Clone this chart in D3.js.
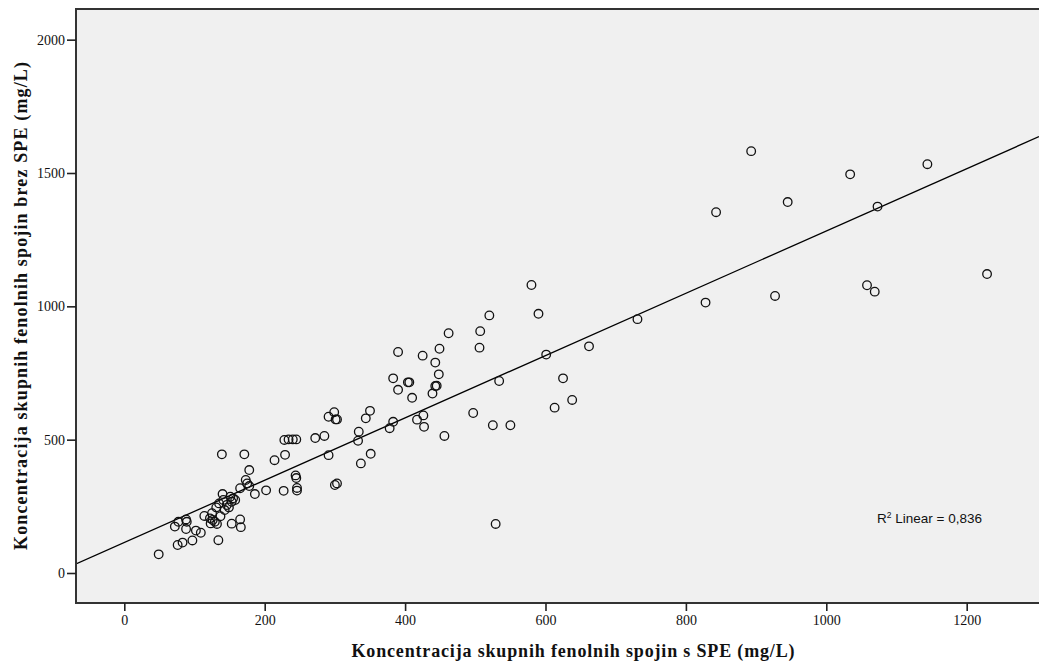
<!DOCTYPE html>
<html>
<head>
<meta charset="utf-8">
<script src="https://cdn.jsdelivr.net/npm/d3@7/dist/d3.min.js"></script>
<style>
  html, body { margin: 0; padding: 0; background: #ffffff; }
  svg { display: block; }
  .tick text { font-family: "Liberation Serif", "Times New Roman", serif; font-size: 14px; fill: #111; }
</style>
</head>
<body>
<svg id="chart" width="1039" height="664"></svg>
<script>
// Total phenolics with SPE (x) vs without SPE (y), mg/L
const withSPE = [
  49, 72, 77, 76, 83, 88, 89, 88, 97, 102, 109, 114, 134, 139, 153, 165, 166, 165, 171, 173,
  175, 178, 178, 186, 202, 214, 227, 229, 228, 234, 240, 245, 244, 245, 246, 246, 272, 285, 291, 291,
  299, 301, 303, 300, 303, 334, 333, 337, 344, 350, 351, 378, 383, 383, 390, 390, 404, 406, 410, 417,
  426, 427, 425, 443, 449, 448, 439, 443, 445, 456, 462, 497, 506, 507, 520, 525, 529, 534, 550, 580,
  590, 601, 613, 625, 638, 662, 731, 828, 843, 893, 927, 945, 1034, 1058, 1069, 1073, 1144, 1229,
  122, 123, 126, 129, 132, 131, 135, 140, 141, 143, 146, 149, 151, 153, 155, 158, 125, 137
];
const withoutSPE = [
  70, 174, 192, 105, 114, 201, 192, 165, 122, 159, 151, 214, 123, 445, 185, 201, 172, 318, 445, 349,
  336, 386, 326, 296, 310, 423, 308, 443, 499, 501, 501, 501, 366, 356, 319, 309, 506, 514, 442, 586,
  603, 576, 576, 330, 336, 530, 496, 411, 580, 608, 447, 543, 567, 730, 829, 687, 715, 715, 657, 575,
  591, 548, 815, 789, 841, 745, 673, 701, 702, 514, 899, 600, 845, 907, 966, 554, 184, 720, 554, 1080,
  972, 819, 620, 730, 649, 850, 952, 1014, 1353, 1582, 1039, 1391, 1495, 1079, 1055, 1374, 1533, 1121,
  205, 186, 199, 192, 184, 246, 261, 296, 274, 236, 255, 246, 286, 267, 280, 274, 224, 213
];

// Linear fit reported on the chart
const fitIntercept = 114.5;
const fitSlope = 1.168;
const rSquared = "0,836";

const xTicks = [0, 200, 400, 600, 800, 1000, 1200];
const yTicks = [0, 500, 1000, 1500, 2000];

const xTitle = "Koncentracija skupnih fenolnih spojin s SPE (mg/L)";
const yTitle = "Koncentracija skupnih fenolnih spojin brez SPE (mg/L)";

const svg = d3.select("#chart");
const plot = { left: 76, top: 9, right: 1039, bottom: 603 };

const x = d3.scaleLinear().domain([-68.8, 1303]).range([plot.left, plot.right]);
const y = d3.scaleLinear().domain([-112.5, 2115]).range([plot.bottom, plot.top]);

// plot background
svg.append("rect")
  .attr("x", plot.left).attr("y", plot.top)
  .attr("width", plot.right - plot.left + 10).attr("height", plot.bottom - plot.top)
  .attr("fill", "#f0f0f0");

svg.append("clipPath").attr("id", "plotclip")
  .append("rect")
  .attr("x", plot.left).attr("y", plot.top)
  .attr("width", plot.right - plot.left).attr("height", plot.bottom - plot.top);

// fit line across the full x range
const [x0, x1] = x.domain();
svg.append("line")
  .attr("clip-path", "url(#plotclip)")
  .attr("x1", x(x0)).attr("y1", y(fitIntercept + fitSlope * x0))
  .attr("x2", x(x1)).attr("y2", y(fitIntercept + fitSlope * x1))
  .attr("stroke", "#000").attr("stroke-width", 1.3);

// points
const pts = withSPE.map((v, i) => ({ x: v, y: withoutSPE[i] }));
svg.append("g")
  .selectAll("circle")
  .data(pts)
  .join("circle")
  .attr("cx", d => x(d.x))
  .attr("cy", d => y(d.y))
  .attr("r", 4.3)
  .attr("fill", "none")
  .attr("stroke", "#111")
  .attr("stroke-width", 1.3);

// frame
svg.append("path")
  .attr("d", `M${plot.right + 10},${plot.top}H${plot.left}V${plot.bottom}H${plot.right + 10}`)
  .attr("fill", "none").attr("stroke", "#333").attr("stroke-width", 2);

// axes
const fmt = d3.format("d");
const xAxis = svg.append("g")
  .attr("transform", `translate(0,${plot.bottom})`)
  .call(d3.axisBottom(x).tickValues(xTicks).tickFormat(fmt).tickSize(8).tickSizeOuter(0).tickPadding(4));
xAxis.select(".domain").remove();
xAxis.selectAll(".tick line").attr("stroke", "#222").attr("stroke-width", 1.6);

const yAxis = svg.append("g")
  .attr("transform", `translate(${plot.left},0)`)
  .call(d3.axisLeft(y).tickValues(yTicks).tickFormat(fmt).tickSize(9).tickSizeOuter(0).tickPadding(2));
yAxis.select(".domain").remove();
yAxis.selectAll(".tick line").attr("stroke", "#222").attr("stroke-width", 1.6);

// axis titles
svg.append("text")
  .attr("x", 573).attr("y", 657)
  .attr("text-anchor", "middle")
  .attr("font-family", "'Liberation Serif', 'Times New Roman', serif")
  .attr("font-weight", "bold").attr("font-size", 18)
  .attr("textLength", 443).attr("lengthAdjust", "spacing")
  .attr("fill", "#111")
  .text(xTitle);

svg.append("text")
  .attr("transform", `translate(27,306) rotate(-90)`)
  .attr("text-anchor", "middle")
  .attr("font-family", "'Liberation Serif', 'Times New Roman', serif")
  .attr("font-weight", "bold").attr("font-size", 18)
  .attr("textLength", 488).attr("lengthAdjust", "spacing")
  .attr("fill", "#111")
  .text(yTitle);

// R squared annotation
const r2 = svg.append("text")
  .attr("x", 877).attr("y", 523)
  .attr("font-family", "'Liberation Sans', Arial, sans-serif")
  .attr("font-size", 13.5)
  .attr("fill", "#111");
r2.append("tspan").text("R");
r2.append("tspan").attr("font-size", 8.5).attr("dy", -5).text("2");
r2.append("tspan").attr("dy", 5).text(" Linear = " + rSquared);
</script>
</body>
</html>
